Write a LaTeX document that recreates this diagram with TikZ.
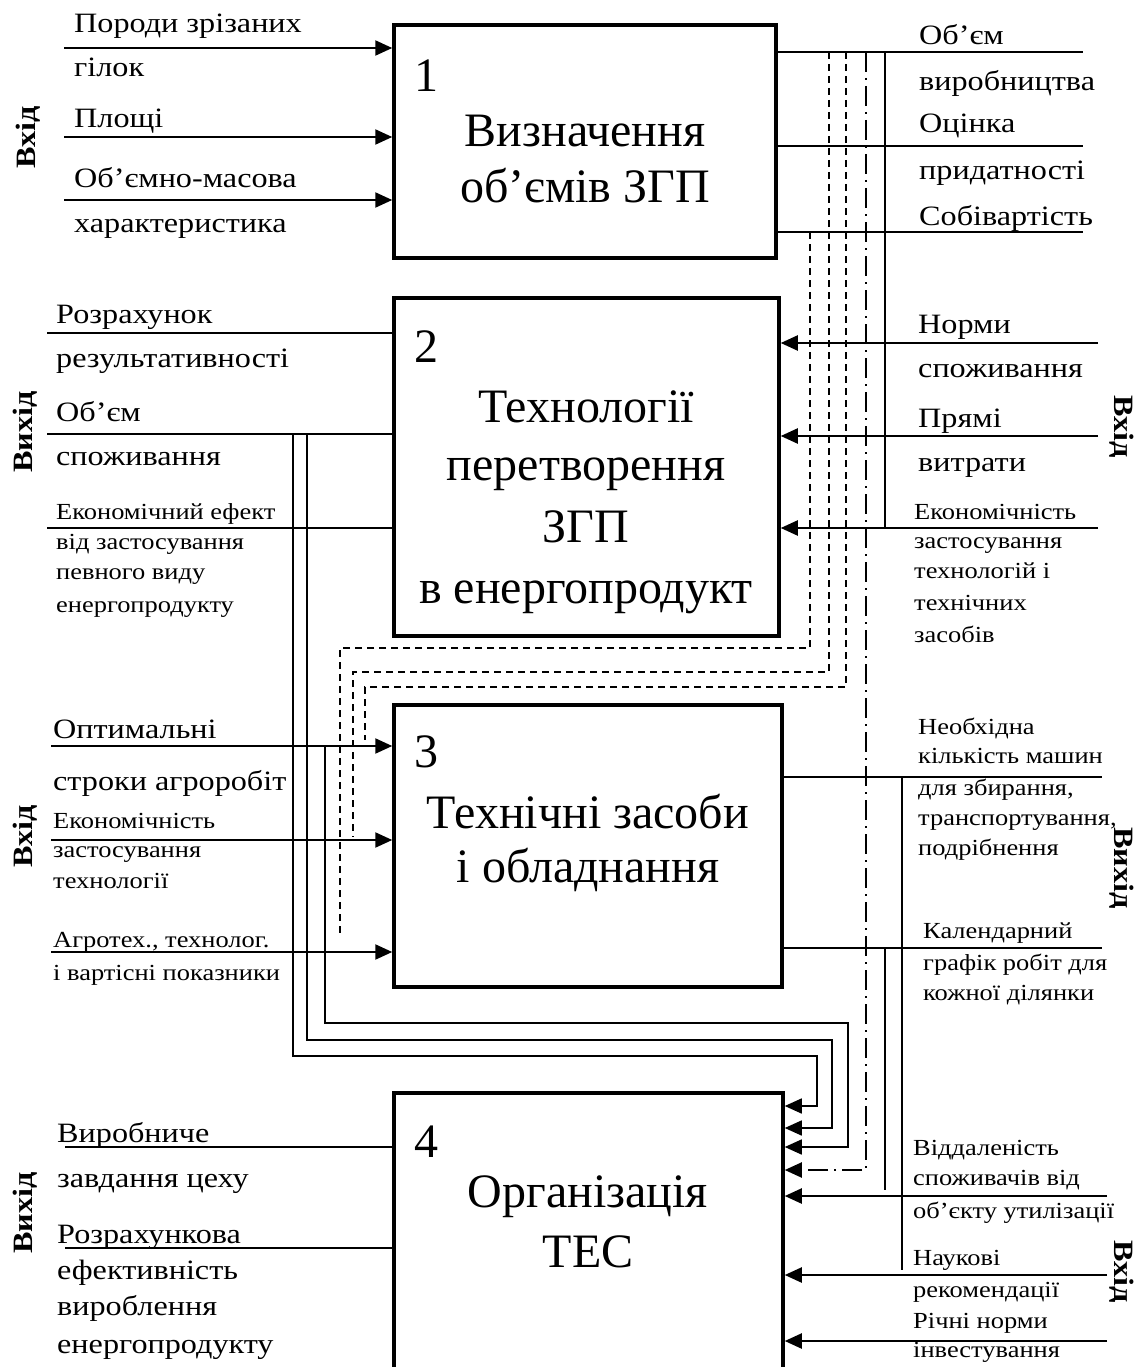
\documentclass[tikz,border=0pt]{standalone}
\usepackage{fontspec}
\setmainfont{Liberation Serif}
\newfontfamily\lblfont[FakeStretch=1.15]{Liberation Serif}
\usetikzlibrary{arrows.meta}
\begin{document}
\begin{tikzpicture}[x=1pt,y=-1pt,
  box/.style={draw, line width=3.5pt, inner sep=0pt},
  conn/.style={line width=2.2pt},
  thinl/.style={line width=1.6pt},
  arr/.style={-{Triangle[length=17pt,width=15pt]}},
  dsh/.style={line width=1.6pt, dash pattern=on 7pt off 5pt},
  dashdot/.style={line width=2pt, dash pattern=on 20pt off 6pt on 2pt off 6pt},
  lbl/.style={anchor=base west, inner sep=0pt, font=\lblfont\fontsize{28}{30}\selectfont},
  sml/.style={anchor=base west, inner sep=0pt, font=\lblfont\fontsize{23}{25}\selectfont},
  ttl/.style={anchor=base, inner sep=0pt, font=\fontsize{48}{52}\selectfont},
  num/.style={anchor=base west, inner sep=0pt, font=\fontsize{48}{52}\selectfont},
  side/.style={inner sep=0pt, font=\lblfont\fontsize{28}{30}\selectfont\bfseries},
]
\useasboundingbox (0,0) rectangle (1145,1367);
\clip (0,0) rectangle (1145,1367);

% boxes
\node[box, minimum width=382pt, minimum height=233pt] (b1) at (585,141.5) {};
\node[box, minimum width=385pt, minimum height=338pt] (b2) at (586.5,467) {};
\node[box, minimum width=388pt, minimum height=282pt] (b3) at (588,846) {};
\node[box, minimum width=389pt, minimum height=314pt] (b4) at (588.5,1250) {};

% box texts
\node[num] (n1) at (414,92) {1};
\node[ttl] (t1a) at (585,147) {Визначення};
\node[ttl] (t1b) at (585,202) {об’ємів ЗГП};
\node[num] (n2) at (414,362) {2};
\node[ttl] (t2a) at (586,422) {Технології};
\node[ttl] (t2b) at (586,480) {перетворення};
\node[ttl] (t2c) at (586,542) {ЗГП};
\node[ttl] (t2d) at (586,603) {в енергопродукт};
\node[num] (n3) at (414,767) {3};
\node[ttl] (t3a) at (588,828) {Технічні засоби};
\node[ttl] (t3b) at (588,882) {і обладнання};
\node[num] (n4) at (414,1157) {4};
\node[ttl] (t4a) at (588,1207) {Організація};
\node[ttl] (t4b) at (588,1267) {ТЕС};

% ---------- box 1 inputs (left)
\coordinate (i1a) at (64,48);
\coordinate (i1b) at (64,137);
\coordinate (i1c) at (64,200);
\draw[conn,arr] (i1a) -- (b1.west |- i1a);
\draw[conn,arr] (i1b) -- (b1.west |- i1b);
\draw[conn,arr] (i1c) -- (b1.west |- i1c);
\node[lbl] (l1a) at (74,33) {Породи зрізаних};
\node[lbl] (l1b) at (74,77) {гілок};
\node[lbl] (l1c) at (74,128) {Площі};
\node[lbl] (l1d) at (74,188) {Об’ємно-масова};
\node[lbl] (l1e) at (74,232) {характеристика};
\node[side, rotate=90] (s1) at (28,137) {Вхід};

% ---------- box 1 outputs (right)
\coordinate (o1a) at (1083,52);
\coordinate (o1b) at (1083,146);
\coordinate (o1c) at (1083,232);
\draw[conn] (b1.east |- o1a) -- (o1a);
\draw[conn] (b1.east |- o1b) -- (o1b);
\draw[conn] (b1.east |- o1c) -- (o1c);
\node[lbl] (r1a) at (919,45) {Об’єм};
\node[lbl] (r1b) at (919,91) {виробництва};
\node[lbl] (r1c) at (919,133) {Оцінка};
\node[lbl] (r1d) at (919,180) {придатності};
\node[lbl] (r1e) at (919,225) {Собівартість};

% ---------- box 2 inputs (right)
\coordinate (i2a) at (1098,343);
\coordinate (i2b) at (1098,436);
\coordinate (i2c) at (1098,528);
\draw[conn,arr] (i2a) -- (b2.east |- i2a);
\draw[conn,arr] (i2b) -- (b2.east |- i2b);
\draw[conn,arr] (i2c) -- (b2.east |- i2c);
\node[lbl] (r2a) at (918,333) {Норми};
\node[lbl] (r2b) at (918,377) {споживання};
\node[lbl] (r2c) at (918,427) {Прямі};
\node[lbl] (r2d) at (918,471) {витрати};
\node[sml] (r2e) at (914,519) {Економічність};
\node[sml] (r2f) at (914,548) {застосування};
\node[sml] (r2g) at (914,578) {технологій і};
\node[sml] (r2h) at (914,610) {технічних};
\node[sml] (r2i) at (914,642) {засобів};
\node[side, rotate=-90] (s2) at (1122,427) {Вхід};

% ---------- box 2 outputs (left)
\coordinate (o2a) at (47,333);
\coordinate (o2b) at (47,434);
\coordinate (o2c) at (47,528);
\draw[conn] (b2.west |- o2a) -- (o2a);
\draw[conn] (b2.west |- o2b) -- (o2b);
\draw[conn] (b2.west |- o2c) -- (o2c);
\node[lbl] (l2a) at (56,323) {Розрахунок};
\node[lbl] (l2b) at (56,367) {результативності};
\node[lbl] (l2c) at (56,421) {Об’єм};
\node[lbl] (l2d) at (56,465) {споживання};
\node[sml] (l2e) at (56,519) {Економічний ефект};
\node[sml] (l2f) at (56,549) {від застосування};
\node[sml] (l2g) at (56,579) {певного виду};
\node[sml] (l2h) at (56,612) {енергопродукту};
\node[side, rotate=90] (s3) at (25,432) {Вихід};

% ---------- box 3 inputs (left)
\coordinate (i3a) at (51,746);
\coordinate (i3b) at (51,840);
\coordinate (i3c) at (51,952);
\draw[conn,arr] (i3a) -- (b3.west |- i3a);
\draw[conn,arr] (i3b) -- (b3.west |- i3b);
\draw[conn,arr] (i3c) -- (b3.west |- i3c);
\node[lbl] (l3a) at (53,738) {Оптимальні};
\node[lbl] (l3b) at (53,790) {строки агроробіт};
\node[sml] (l3c) at (53,828) {Економічність};
\node[sml] (l3d) at (53,857) {застосування};
\node[sml] (l3e) at (53,888) {технології};
\node[sml] (l3f) at (53,947) {Агротех., технолог.};
\node[sml] (l3g) at (53,980) {і вартісні показники};
\node[side, rotate=90] (s4) at (25,836) {Вхід};

% ---------- box 3 outputs (right)
\coordinate (o3a) at (1102,777);
\coordinate (o3b) at (1102,948);
\draw[conn] (b3.east |- o3a) -- (o3a);
\draw[conn] (b3.east |- o3b) -- (o3b);
\node[sml] (r3a) at (918,734) {Необхідна};
\node[sml] (r3b) at (918,763) {кількість машин};
\node[sml] (r3c) at (918,795) {для збирання,};
\node[sml] (r3d) at (918,825) {транспортування,};
\node[sml] (r3e) at (918,855) {подрібнення};
\node[sml] (r3f) at (923,938) {Календарний};
\node[sml] (r3g) at (923,970) {графік робіт для};
\node[sml] (r3h) at (923,1000) {кожної ділянки};
\node[side, rotate=-90] (s5) at (1122,868) {Вихід};

% ---------- box 4 inputs (right)
\coordinate (i4a) at (1107,1196);
\coordinate (i4b) at (1107,1275);
\coordinate (i4c) at (1107,1341);
\draw[conn,arr] (i4a) -- (b4.east |- i4a);
\draw[conn,arr] (i4b) -- (b4.east |- i4b);
\draw[conn,arr] (i4c) -- (b4.east |- i4c);
\node[sml] (r4a) at (913,1155) {Віддаленість};
\node[sml] (r4b) at (913,1185) {споживачів від};
\node[sml] (r4c) at (913,1218) {об’єкту утилізації};
\node[sml] (r4d) at (913,1265) {Наукові};
\node[sml] (r4e) at (913,1297) {рекомендації};
\node[sml] (r4f) at (913,1328) {Річні норми};
\node[sml] (r4g) at (913,1357) {інвестування};
\node[side, rotate=-90] (s6) at (1122,1272) {Вхід};

% ---------- box 4 outputs (left)
\coordinate (o4a) at (65,1147);
\coordinate (o4b) at (65,1248);
\draw[conn] (b4.west |- o4a) -- (o4a);
\draw[conn] (b4.west |- o4b) -- (o4b);
\node[lbl] (l4a) at (57,1142) {Виробниче};
\node[lbl] (l4b) at (57,1187) {завдання цеху};
\node[lbl] (l4c) at (57,1243) {Розрахункова};
\node[lbl] (l4d) at (57,1279) {ефективність};
\node[lbl] (l4e) at (57,1315) {вироблення};
\node[lbl] (l4f) at (57,1353) {енергопродукту};
\node[side, rotate=90] (s7) at (25,1213) {Вихід};

% ---------- links from box 1 outputs
\coordinate (d1s) at (846,52);  \coordinate (d1e) at (365,740);
\coordinate (d2s) at (829,52);  \coordinate (d2e) at (353,837);
\coordinate (d3s) at (810,232); \coordinate (d3e) at (340,937);
\draw[dsh] (d1s) |- (365,687) -- (d1e);
\draw[dsh] (d2s) |- (353,672) -- (d2e);
\draw[dsh] (d3s) |- (340,648) -- (d3e);
\coordinate (ddS) at (866,52);
\draw[dashdot,arr] (ddS) -- (866,1170) -- (b4.east |- 0,1170);
\coordinate (v1s) at (885,52); \coordinate (v1e) at (885,528);
\draw[thinl] (v1s) -- (v1e);

% ---------- links from box 2 outputs / box 3 inputs to box 4
\coordinate (L1s) at (293,434);
\coordinate (L2s) at (307,434);
\coordinate (L3s) at (325,746);
\draw[thinl,arr] (L1s) |- (817,1056) |- (b4.east |- 0,1106);
\draw[thinl,arr] (L2s) |- (832,1040) |- (b4.east |- 0,1128);
\draw[thinl,arr] (L3s) |- (848,1023) |- (b4.east |- 0,1147);

% ---------- links from box 3 outputs
\coordinate (v2s) at (902,777); \coordinate (v2e) at (902,1270);
\coordinate (v3s) at (885,948); \coordinate (v3e) at (885,1190);
\draw[thinl] (v2s) -- (v2e);
\draw[thinl] (v3s) -- (v3e);
\end{tikzpicture}
\end{document}
